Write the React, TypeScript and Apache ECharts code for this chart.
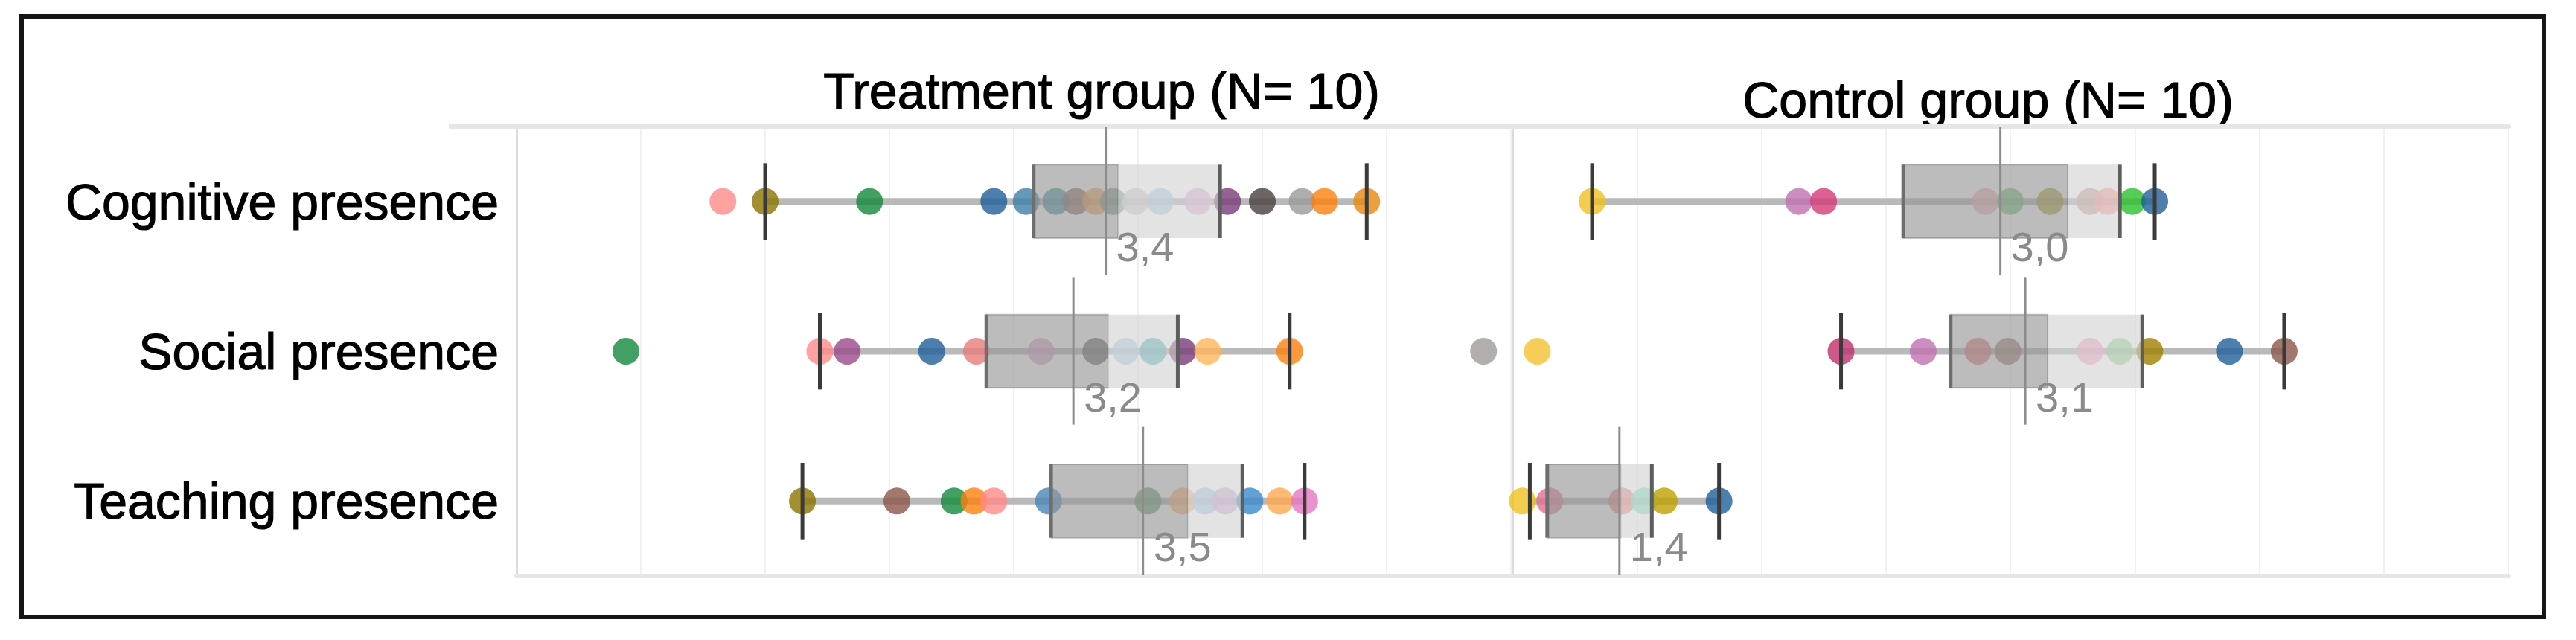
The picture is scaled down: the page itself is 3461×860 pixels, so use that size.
import React, { useEffect, useRef } from "react";
import * as echarts from "echarts";

// ---------- data ----------
const categories = ["Cognitive presence", "Social presence", "Teaching presence"];
const groupTitles = ["Treatment group (N= 10)", "Control group (N= 10)"];
const axisMin = 1;
const axisMax = 5;
const axisStep = 0.5;

// box stats per category: [whiskerLow, q1, q2, q3, whiskerHigh]
const treatmentBoxes = [
  [2.0, 3.08, 3.42, 3.83, 4.42],
  [2.22, 2.89, 3.38, 3.66, 4.11],
  [2.15, 3.15, 3.7, 3.92, 4.17],
];
const treatmentMeans = [3.37, 3.24, 3.52];

const controlBoxes = [
  [1.32, 2.57, 3.23, 3.44, 3.58],
  [2.32, 2.76, 3.15, 3.53, 4.1],
  [1.07, 1.14, 1.435, 1.56, 1.83],
];
const controlMeans = [2.96, 3.06, 1.43];

// individual scores
const treatmentCognitive = [1.83, 2.0, 2.42, 2.92, 3.05, 3.17, 3.25, 3.33, 3.4, 3.49, 3.59, 3.74, 3.86, 4.0, 4.16, 4.25, 4.42];
const treatmentSocial = [1.44, 2.22, 2.33, 2.67, 2.85, 3.11, 3.33, 3.45, 3.56, 3.68, 3.78, 4.11, 4.89];
const treatmentTeaching = [2.15, 2.53, 2.76, 2.84, 2.92, 3.14, 3.54, 3.68, 3.77, 3.85, 3.95, 4.07, 4.17];
const controlCognitive = [1.32, 2.15, 2.25, 2.9, 3.0, 3.16, 3.32, 3.39, 3.49, 3.58];
const controlSocial = [1.1, 2.32, 2.65, 2.87, 2.99, 3.32, 3.44, 3.56, 3.88, 4.1];
const controlTeaching = [1.04, 1.15, 1.44, 1.53, 1.61, 1.83];

// ---------- styles ----------
const treatmentCognitiveColors = ["#ff8a8a", "#8b7400", "#13893b", "#1f5f99", "#3d7fa8", "#3f8ea0", "#8a6b63", "#f0a050", "#7f9a8f", "#c8c8c8", "#a8cde0", "#e0b0d8", "#7b3b7b", "#4a3f3f", "#9a9a9a", "#ff7f0e", "#e8870e"];
const treatmentSocialColors = ["#13893b", "#ff8a8a", "#9a4a8a", "#1f5f99", "#e87c7c", "#d8a0c8", "#606060", "#aecde8", "#4fb0b8", "#7b3b7b", "#ffb55a", "#ff7f0e", "#9e9a96"];
const treatmentTeachingColors = ["#8b7400", "#8c564b", "#13893b", "#ff7f0e", "#ff8a8a", "#4a86b8", "#5f9a6f", "#ffb070", "#a8c8e8", "#d0a8d8", "#3a8acb", "#ffa850", "#e377c2"];
const controlCognitiveColors = ["#f0c020", "#c070b0", "#d63a78", "#f0b0b8", "#6ec070", "#a89a30", "#c49c94", "#ff9896", "#2cc02c", "#1f5f99"];
const controlSocialColors = ["#f5c030", "#c0306a", "#c070b0", "#e07070", "#9a7a6a", "#f0a0c0", "#90d090", "#a08000", "#1f5f99", "#8c564b"];
const controlTeachingColors = ["#f0c020", "#e07090", "#f08080", "#80e0c0", "#c0a000", "#1f5f99"];

const FONT = "Liberation Sans, Arial, sans-serif";

function pointsData(rows: number[][], colors: string[][]) {
  const out: any[] = [];
  rows.forEach((vals, ci) => {
    vals.forEach((v, j) => {
      out.push({ value: [v, ci], itemStyle: { color: colors[ci][j] } });
    });
  });
  return out;
}

function boxData(boxes: number[][], means: number[]) {
  return boxes.map((b, i) => [i, b[0], b[1], b[2], b[3], b[4], means[i]]);
}

function whiskerRender(params: any, api: any) {
  const cat = api.value(0);
  const a = api.coord([api.value(1), cat]);
  const b = api.coord([api.value(5), cat]);
  return {
    type: "line",
    shape: { x1: a[0], y1: a[1], x2: b[0], y2: b[1] },
    style: { stroke: "#b9b9b9", lineWidth: 9 },
  };
}

function boxRender(params: any, api: any) {
  const cat = api.value(0);
  const lo = api.coord([api.value(1), cat]);
  const q1 = api.coord([api.value(2), cat]);
  const q2 = api.coord([api.value(3), cat]);
  const q3 = api.coord([api.value(4), cat]);
  const hi = api.coord([api.value(5), cat]);
  const meanV = api.value(6);
  const mean = api.coord([meanV, cat]);
  const band = api.size([0, 1])[1];
  const yc = lo[1];
  const bh = band * 0.49;
  const top = yc - bh / 2;
  const bottom = yc + bh / 2;
  const label = Number(meanV).toFixed(1).replace(".", ",");
  const vline = (x: number, color: string, w: number, y1: number, y2: number) => ({
    type: "line",
    shape: { x1: x, y1, x2: x, y2 },
    style: { stroke: color, lineWidth: w },
  });
  return {
    type: "group",
    children: [
      {
        type: "rect",
        shape: { x: q1[0], y: top, width: q2[0] - q1[0], height: bh },
        style: { fill: "rgba(150,150,150,0.64)", stroke: "rgba(120,120,120,0.45)", lineWidth: 2 },
      },
      {
        type: "rect",
        shape: { x: q2[0], y: top, width: q3[0] - q2[0], height: bh },
        style: { fill: "rgba(210,210,210,0.62)" },
      },
      vline(q1[0], "#6e6e6e", 5, top, bottom),
      vline(q3[0], "#5e5e5e", 5, top, bottom),
      vline(lo[0], "#3a3a3a", 5, top - 2, bottom + 2),
      vline(hi[0], "#3a3a3a", 5, top - 2, bottom + 2),
      vline(mean[0], "#8c8c8c", 3, yc - band / 2 + 1, yc + band / 2 - 2),
      {
        type: "text",
        x: mean[0] + 14,
        y: bottom + 12,
        style: {
          text: label,
          fill: "#8a8a8a",
          fontSize: 56,
          fontFamily: FONT,
          align: "left",
          verticalAlign: "middle",
        },
      },
    ],
  };
}

export default function App() {
  const ref = useRef<HTMLDivElement>(null);

  useEffect(() => {
    if (!ref.current) return;
    const chart = echarts.init(ref.current, null, { renderer: "svg" });

    const gridCommon = {
      top: 170,
      height: 604,
      show: true,
      borderColor: "#e2e2e2",
      borderWidth: 2,
    };

    const xBottom = (gi: number) => ({
      gridIndex: gi,
      type: "value",
      min: axisMin,
      max: axisMax,
      interval: axisStep,
      position: "bottom",
      axisLine: { show: true, onZero: false, lineStyle: { color: "#e6e6e6", width: 6 } },
      axisTick: { show: false },
      axisLabel: { show: false },
      splitLine: { show: true, lineStyle: { color: "#f1f1f1", width: 2 } },
    });
    const xTop = (gi: number) => ({
      gridIndex: gi,
      type: "value",
      min: axisMin,
      max: axisMax,
      interval: axisStep,
      position: "top",
      axisLine: { show: true, onZero: false, lineStyle: { color: "#e6e6e6", width: 6 } },
      axisTick: { show: false },
      axisLabel: { show: false },
      splitLine: { show: false },
    });
    const yAx = (gi: number, showLabels: boolean) => ({
      gridIndex: gi,
      type: "category",
      data: categories,
      inverse: true,
      axisLine: { show: true, lineStyle: { color: "#dcdcdc", width: 3 } },
      axisTick: { show: false },
      splitLine: { show: false },
      axisLabel: {
        show: showLabels,
        fontSize: 68,
        color: "#000",
        fontFamily: FONT,
        margin: 24,
        padding: [0, 0, 24, 0],
        textBorderColor: "#000",
        textBorderWidth: 1.2,
      },
    });

    const treatmentPoints = pointsData(
      [treatmentCognitive, treatmentSocial, treatmentTeaching],
      [treatmentCognitiveColors, treatmentSocialColors, treatmentTeachingColors]
    );
    const controlPoints = pointsData(
      [controlCognitive, controlSocial, controlTeaching],
      [controlCognitiveColors, controlSocialColors, controlTeachingColors]
    );

    const seriesFor = (xi: number, yi: number, boxes: any[], pts: any[]) => [
      {
        type: "custom",
        xAxisIndex: xi,
        yAxisIndex: yi,
        z: 1,
        renderItem: whiskerRender,
        encode: { x: [1, 5], y: 0 },
        data: boxes,
        silent: true,
      },
      {
        type: "scatter",
        xAxisIndex: xi,
        yAxisIndex: yi,
        z: 2,
        symbol: "circle",
        symbolSize: 36,
        data: pts,
        silent: true,
      },
      {
        type: "custom",
        xAxisIndex: xi,
        yAxisIndex: yi,
        z: 3,
        renderItem: boxRender,
        encode: { x: [1, 2, 3, 4, 5, 6], y: 0 },
        data: boxes,
        silent: true,
      },
    ];

    const titleStyle = {
      fontSize: 68,
      fontFamily: FONT,
      fill: "#000",
      align: "center",
      verticalAlign: "middle",
      stroke: "#000",
      lineWidth: 1.2,
    };

    chart.setOption({
      animation: false,
      backgroundColor: "#ffffff",
      grid: [
        { ...gridCommon, left: 694, width: 1336 },
        { ...gridCommon, left: 2032, width: 1338 },
      ],
      xAxis: [xBottom(0), xTop(0), xBottom(1), xTop(1)],
      yAxis: [yAx(0, true), yAx(1, false)],
      series: [
        ...seriesFor(0, 0, boxData(treatmentBoxes, treatmentMeans), treatmentPoints),
        ...seriesFor(2, 1, boxData(controlBoxes, controlMeans), controlPoints),
      ],
      graphic: [
        {
          type: "rect",
          shape: { x: 29, y: 22, width: 3389, height: 807 },
          style: { fill: "none", stroke: "#151515", lineWidth: 6 },
          silent: true,
        },
        {
          type: "line",
          shape: { x1: 603, y1: 170, x2: 694, y2: 170 },
          style: { stroke: "#e6e6e6", lineWidth: 6 },
          silent: true,
        },
        {
          type: "text",
          x: 1480,
          y: 122,
          style: { ...titleStyle, text: groupTitles[0] },
        },
        {
          type: "text",
          x: 2671,
          y: 134,
          style: { ...titleStyle, text: groupTitles[1] },
        },
      ],
    });

    return () => chart.dispose();
  }, []);

  return (
    <div
      ref={ref}
      style={{ position: "fixed", left: 0, top: 0, width: 3461, height: 860, background: "#fff" }}
    />
  );
}
